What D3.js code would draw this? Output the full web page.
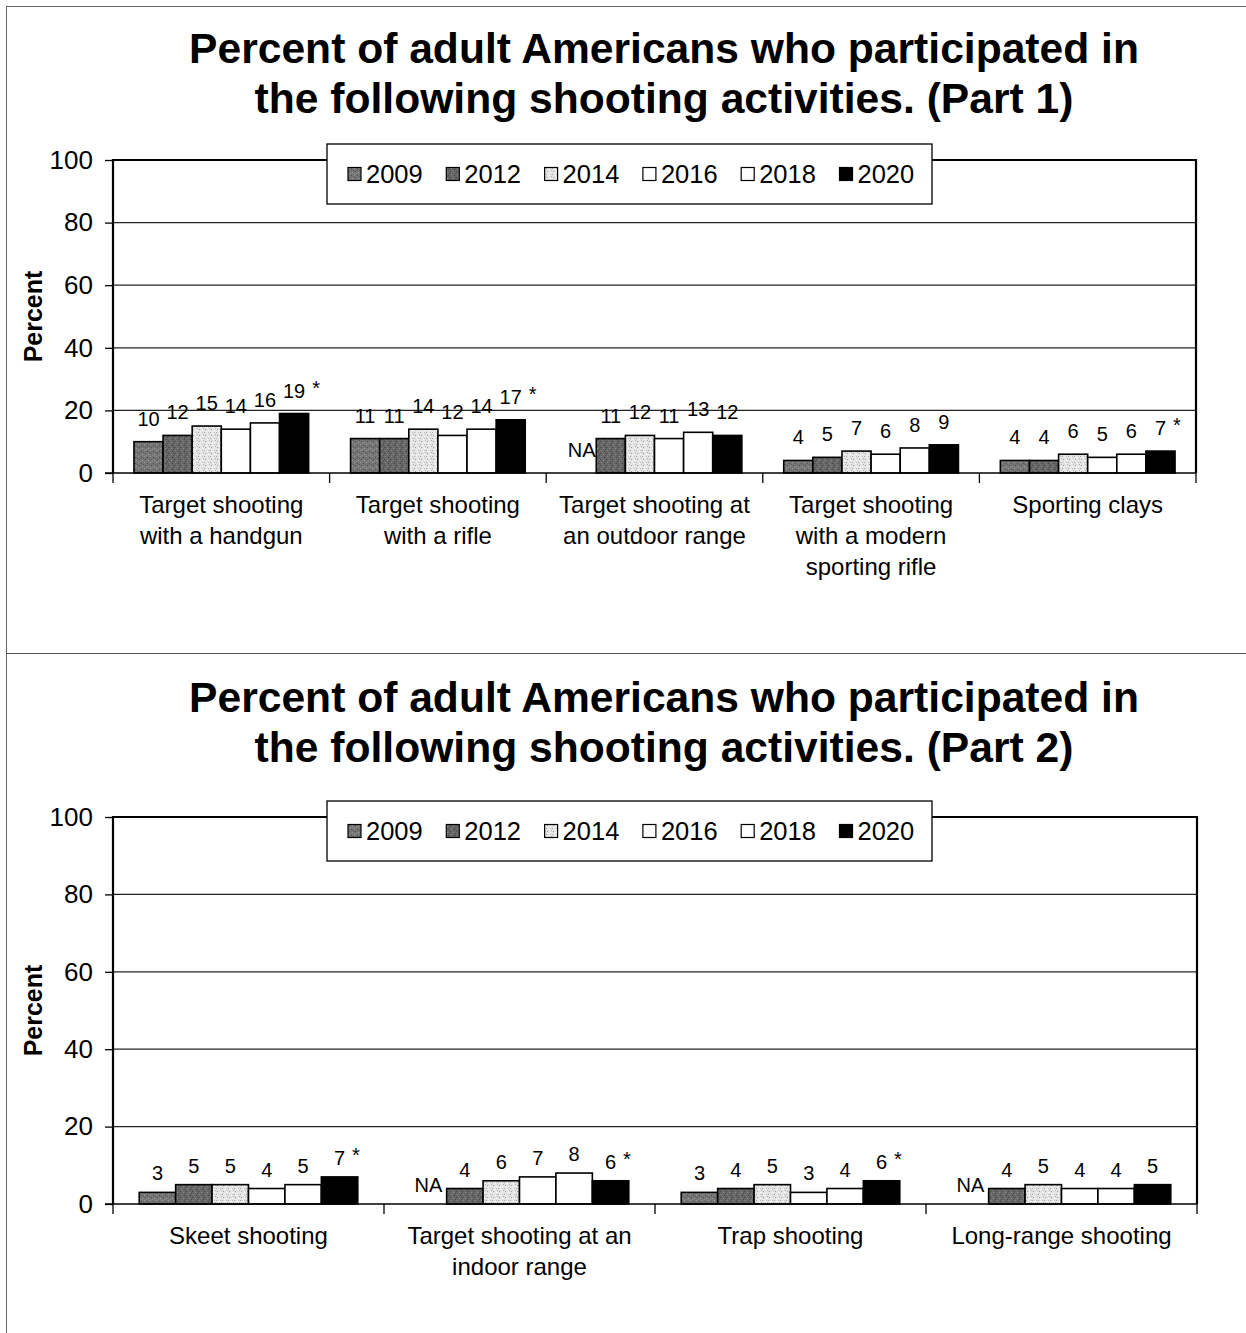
<!DOCTYPE html>
<html>
<head>
<meta charset="utf-8">
<script src="https://cdn.jsdelivr.net/npm/d3@7"></script>
<style>
  html, body { margin: 0; padding: 0; background: #fff; }
  svg { display: block; }
  text { font-family: "Liberation Sans", Arial, sans-serif; fill: #000; }
</style>
</head>
<body>
<svg id="chart" width="1246" height="1333"></svg>
<script>
// ---------- DATA ----------
const years = ["2009", "2012", "2014", "2016", "2018", "2020"];
const yTicks = [0, 20, 40, 60, 80, 100];

const part1Categories = [
  "Target shooting\nwith a handgun",
  "Target shooting\nwith a rifle",
  "Target shooting at\nan outdoor range",
  "Target shooting\nwith a modern\nsporting rifle",
  "Sporting clays"
];
const p1_2009 = [10, 11, null, 4, 4];
const p1_2012 = [12, 11, 11, 5, 4];
const p1_2014 = [15, 14, 12, 7, 6];
const p1_2016 = [14, 12, 11, 6, 5];
const p1_2018 = [16, 14, 13, 8, 6];
const p1_2020 = [19, 17, 12, 9, 7];
const p1_significant = [true, true, false, false, true];

const part2Categories = [
  "Skeet shooting",
  "Target shooting at an\nindoor range",
  "Trap shooting",
  "Long-range shooting"
];
const p2_2009 = [3, null, 3, null];
const p2_2012 = [5, 4, 4, 4];
const p2_2014 = [5, 6, 5, 5];
const p2_2016 = [4, 7, 3, 4];
const p2_2018 = [5, 8, 4, 4];
const p2_2020 = [7, 6, 6, 5];
const p2_significant = [true, true, true, false];

const titles = [
  ["Percent of adult Americans who participated in", "the following shooting activities. (Part 1)"],
  ["Percent of adult Americans who participated in", "the following shooting activities. (Part 2)"]
];

// ---------- SETUP ----------
const svg = d3.select("#chart");
const defs = svg.append("defs");

function makePattern(id, bg, dots) {
  const p = defs.append("pattern").attr("id", id)
    .attr("patternUnits", "userSpaceOnUse").attr("width", 6).attr("height", 6);
  p.append("rect").attr("width", 6).attr("height", 6).attr("fill", bg);
  dots.forEach(([x, y, c]) => p.append("rect").attr("x", x).attr("y", y)
    .attr("width", 1).attr("height", 1).attr("fill", c));
}
makePattern("pat2009", "#767676", [[0,0,"#9a9a9a"],[3,1,"#4a4a4a"],[1,3,"#505050"],[4,4,"#a0a0a0"],[5,2,"#5a5a5a"],[2,5,"#8c8c8c"]]);
makePattern("pat2012", "#666666", [[1,0,"#8a8a8a"],[4,1,"#404040"],[0,3,"#454545"],[3,4,"#909090"],[5,5,"#4a4a4a"],[2,2,"#7e7e7e"]]);
makePattern("pat2014", "#e4e4e4", [[0,0,"#a8a8a8"],[3,1,"#ffffff"],[1,3,"#9c9c9c"],[4,4,"#ffffff"],[5,2,"#b0b0b0"],[2,5,"#f4f4f4"],[4,0,"#c0c0c0"]]);

const fills = {
  "2009": "url(#pat2009)",
  "2012": "url(#pat2012)",
  "2014": "url(#pat2014)",
  "2016": "#ffffff",
  "2018": "#ffffff",
  "2020": "#000000"
};

// outer frame
svg.append("line").attr("x1", 6.5).attr("x2", 6.5).attr("y1", 6).attr("y2", 1333).attr("stroke", "#666").attr("stroke-width", 1);
svg.append("line").attr("x1", 6).attr("x2", 1246).attr("y1", 6.5).attr("y2", 6.5).attr("stroke", "#666").attr("stroke-width", 1);
svg.append("line").attr("x1", 6).attr("x2", 1246).attr("y1", 653.5).attr("y2", 653.5).attr("stroke", "#555").attr("stroke-width", 1.2);

function drawPanel(cfg) {
  const g = svg.append("g");
  const { x0, x1, yTop, yBot, categories, series, significant, title, titleY, legendY, labelOffset, catLabelY } = cfg;

  // title
  title.forEach((t, i) => {
    g.append("text").attr("x", 664).attr("y", titleY + i * 50)
      .attr("text-anchor", "middle").attr("font-size", 42.6).attr("font-weight", "bold").text(t);
  });

  const x = d3.scaleBand().domain(d3.range(categories.length)).range([x0, x1]).paddingInner(0).paddingOuter(0);
  const xInner = d3.scaleBand().domain(years).range([0, x.bandwidth()]).paddingOuter(0.72).paddingInner(0);
  const y = d3.scaleLinear().domain([0, 100]).range([yBot, yTop]);

  // gridlines
  g.append("g").selectAll("line").data(yTicks.filter(v => v > 0 && v < 100)).join("line")
    .attr("x1", x0).attr("x2", x1).attr("y1", d => y(d)).attr("y2", d => y(d))
    .attr("stroke", "#222").attr("stroke-width", 1.3);

  // y axis
  const yAxis = d3.axisLeft(y).tickValues(yTicks).tickSize(8).tickPadding(12);
  const ya = g.append("g").attr("transform", `translate(${x0},0)`).call(yAxis);
  ya.select(".domain").remove();
  ya.selectAll(".tick line").attr("stroke", "#000").attr("stroke-width", 1.3);
  ya.selectAll(".tick text").attr("font-size", 26).attr("font-family", "Liberation Sans, Arial, sans-serif").attr("fill", "#000");

  // x axis ticks at category boundaries
  const boundaries = d3.range(categories.length + 1).map(i => i < categories.length ? x(i) : x1);
  g.append("g").selectAll("line").data(boundaries).join("line")
    .attr("x1", d => d).attr("x2", d => d).attr("y1", yBot).attr("y2", yBot + 10)
    .attr("stroke", "#000").attr("stroke-width", 1.3);

  // bars
  years.forEach((yr, si) => {
    const vals = series[si];
    g.append("g").selectAll("rect").data(vals.map((v, ci) => ({ v, ci }))).join("rect")
      .filter(d => d.v !== null)
      .attr("x", d => x(d.ci) + xInner(yr))
      .attr("y", d => y(d.v))
      .attr("width", xInner.bandwidth())
      .attr("height", d => y(0) - y(d.v))
      .attr("fill", fills[yr])
      .attr("stroke", "#000").attr("stroke-width", 1.6);
  });

  // value labels
  years.forEach((yr, si) => {
    const vals = series[si];
    vals.forEach((v, ci) => {
      const cx = x(ci) + xInner(yr) + xInner.bandwidth() / 2;
      const ty = y(v === null ? 0 : v) - labelOffset;
      const t = g.append("text").attr("x", cx).attr("y", ty).attr("text-anchor", "middle")
        .attr("font-size", 20).text(v === null ? "NA" : v);
      if (yr === "2020" && significant[ci]) {
        const w = t.node().getComputedTextLength();
        g.append("text").attr("x", cx + w / 2 + 7).attr("y", ty - 3)
          .attr("font-size", 20).text("*");
      }
    });
  });

  // plot border (left, top, right) and bottom axis
  g.append("path").attr("d", `M${x0},${yBot}V${yTop}H${x1}V${yBot}`)
    .attr("fill", "none").attr("stroke", "#000").attr("stroke-width", 2.2);
  g.append("line").attr("x1", x0 - 8).attr("x2", x1).attr("y1", yBot).attr("y2", yBot)
    .attr("stroke", "#000").attr("stroke-width", 1.6);

  // y axis title
  g.append("text").attr("transform", `translate(42,${(yTop + yBot) / 2}) rotate(-90)`)
    .attr("text-anchor", "middle").attr("font-size", 25).attr("font-weight", "bold").text("Percent");

  // category labels
  categories.forEach((c, ci) => {
    const lines = c.split("\n");
    const t = g.append("text").attr("text-anchor", "middle").attr("font-size", 24);
    lines.forEach((ln, li) => {
      t.append("tspan").attr("x", x(ci) + x.bandwidth() / 2).attr("y", catLabelY + li * 31).text(ln);
    });
  });

  // legend
  const lg = g.append("g");
  lg.append("rect").attr("x", 327).attr("y", legendY).attr("width", 605).attr("height", 60)
    .attr("fill", "#fff").attr("stroke", "#000").attr("stroke-width", 1.3);
  years.forEach((yr, i) => {
    const lx = 348 + i * 98.3;
    const cy = legendY + 30;
    lg.append("rect").attr("x", lx).attr("y", cy - 6.5).attr("width", 13).attr("height", 13)
      .attr("fill", fills[yr]).attr("stroke", "#000").attr("stroke-width", 1.2);
    lg.append("text").attr("x", lx + 18).attr("y", cy + 9).attr("font-size", 25.5).text(yr);
  });
}

drawPanel({
  x0: 113, x1: 1196, yTop: 160, yBot: 473,
  categories: part1Categories,
  series: [p1_2009, p1_2012, p1_2014, p1_2016, p1_2018, p1_2020],
  significant: p1_significant,
  title: titles[0], titleY: 63, legendY: 144,
  labelOffset: 16, catLabelY: 513
});

drawPanel({
  x0: 113, x1: 1197, yTop: 817, yBot: 1204,
  categories: part2Categories,
  series: [p2_2009, p2_2012, p2_2014, p2_2016, p2_2018, p2_2020],
  significant: p2_significant,
  title: titles[1], titleY: 712, legendY: 801,
  labelOffset: 12, catLabelY: 1244
});
</script>
</body>
</html>
